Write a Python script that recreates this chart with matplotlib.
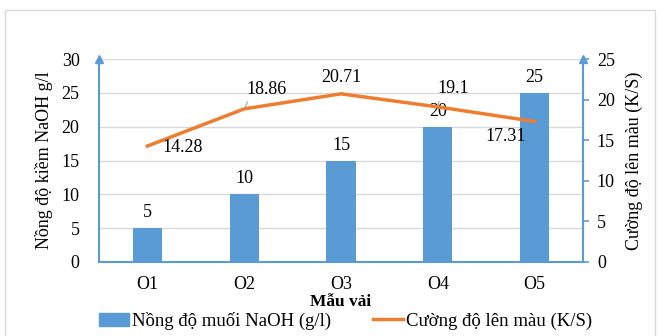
import matplotlib.pyplot as plt
from matplotlib.patches import Rectangle, Patch
from matplotlib.lines import Line2D

plt.rcParams['font.family'] = ['Liberation Serif', 'DejaVu Serif']

# data
samples = ['O1', 'O2', 'O3', 'O4', 'O5']
naoh = [5, 10, 15, 20, 25]
ks = [14.28, 18.86, 20.71, 19.1, 17.31]

blue = '#5B9BD5'
orange = '#ED7D31'

fig = plt.figure(figsize=(6.62, 3.36), dpi=100)
fig.patches.append(Rectangle((5 / 662, -0.05), 650 / 662, 1.05 - 10 / 336,
                             transform=fig.transFigure, fill=False,
                             edgecolor='#D9D9D9', lw=1))
ax = fig.add_axes([99 / 662, 74 / 336, 484 / 662, 203 / 336])
x = list(range(len(samples)))

ax.bar(x, naoh, width=0.30, color=blue, zorder=2)
ax.set_ylim(0, 30)
ax.set_xlim(-0.5, len(samples) - 0.5)
ax.set_yticks(range(0, 31, 5))
ax.set_xticks(x, samples)
ax.grid(axis='y', color='#D9D9D9', lw=1, zorder=0)
ax.tick_params(axis='both', length=0, labelsize=13, pad=10)
ax.tick_params(axis='y', pad=14)
for s in ['top', 'right']:
    ax.spines[s].set_visible(False)
for s in ['left', 'bottom']:
    ax.spines[s].set_color(blue)
    ax.spines[s].set_linewidth(1.5)
ax.plot(0, 1, marker='^', color=blue, ms=6, transform=ax.transAxes,
        clip_on=False, zorder=5)
for xi, v in zip(x, naoh):
    ax.annotate(str(v), (xi, v), xytext=(0, 5), textcoords='offset points',
                ha='center', va='bottom', fontsize=13)
ax.set_ylabel('Nồng độ kiềm NaOH g/l', fontsize=13, labelpad=6)
ax.set_xlabel('Mẫu vải', fontsize=12.5, fontweight='bold', labelpad=1)

ax2 = ax.twinx()
ax2.plot(x, ks, color=orange, lw=2.5, zorder=3)
ax2.set_ylim(0, 25)
ax2.set_yticks(range(0, 26, 5))
ax2.tick_params(axis='y', length=4, width=1.2, color=blue, labelsize=13, pad=6)
for s in ['top', 'left', 'bottom']:
    ax2.spines[s].set_visible(False)
ax2.spines['right'].set_color(blue)
ax2.spines['right'].set_linewidth(1.5)
ax2.plot(1, 1, marker='^', color=blue, ms=6, transform=ax2.transAxes,
         clip_on=False, zorder=5)
ax2.set_ylabel('Cường độ lên màu (K/S)', fontsize=13, labelpad=8)

# line labels (offsets in points)
offs = [(25, -1, False), (16, 14, True), (0, 12, False), (11, 13, True), (-21, -11, False)]
for xi, v, (dx, dy, lead) in zip(x, ks, offs):
    ax2.annotate(f'{v:g}', (xi, v), xytext=(dx, dy), textcoords='offset points',
                 ha='center', va='center', fontsize=13,
                 arrowprops=dict(arrowstyle='-', color='#A6A6A6', lw=0.8,
                                 shrinkA=1, shrinkB=1, relpos=(0.1, 0.1)) if lead else None)

handles = [Patch(color=blue), Line2D([], [], color=orange, lw=2.5)]
fig.legend(handles, ['Nồng độ muối NaOH (g/l)', 'Cường độ lên màu (K/S)'],
           loc='center', bbox_to_anchor=(0.522, 15 / 336), ncol=2, frameon=False,
           fontsize=13.5, handlelength=1.6, handletextpad=0.2, columnspacing=2.2)

fig.savefig('out.png', dpi=100)
